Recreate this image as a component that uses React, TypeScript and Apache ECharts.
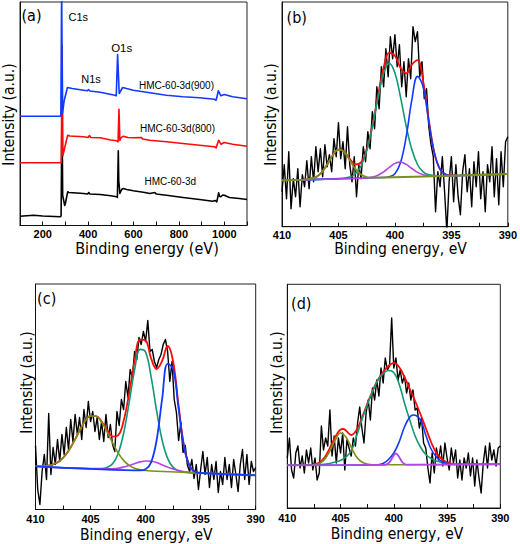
import { useEffect, useRef } from "react";
import * as echarts from "echarts";

// ---------- Panel (a): XPS survey spectra, [binding energy eV, intensity a.u.] ----------
const surveyHMC: [number, number][] = [
  [100, 9.3], [160, 10.3], [200, 9.5], [277, 8.7], [281, 9.5], [285, 120], [288, 30], [297, 20], [300, 22],
  [310, 33.7], [315, 33], [350, 32.5], [380, 32], [398, 31.5], [403, 33], [408, 31.5], [453, 31], [500, 29.7],
  [526, 28.7], [529, 28], [531, 50], [533, 74.7], [535, 45], [540, 32], [548, 36], [555, 37], [570, 36],
  [599, 34.7], [650, 33], [672, 32], [694, 33], [700, 31.5], [745, 30.3], [818, 28], [891, 26], [949, 24.3],
  [960, 25], [967, 23.7], [975, 32.7], [980, 29], [985, 28.7], [993, 30.5], [1000, 30.3], [1022, 28],
  [1066, 27], [1100, 26],
];
const survey800: [number, number][] = [
  [100, 62.7], [200, 62.7], [278, 62.7], [282, 63], [285.5, 180.3], [289, 70], [298, 78.7], [310, 90.3],
  [320, 89.5], [380, 88.7], [400, 88], [406, 90], [412, 88], [453, 87.7], [500, 85.5], [526, 84.7],
  [532, 83.7], [536, 116.3], [540, 85], [545, 87.7], [555, 89.3], [575, 88], [599, 87.7], [635, 88],
  [640, 86.5], [672, 85.3], [745, 83.7], [818, 82], [891, 80.3], [956, 78.7], [964, 77.7], [975, 85.3],
  [985, 81.3], [1000, 83], [1037, 81.3], [1100, 79.3],
];
const survey900: [number, number][] = [
  [100, 109.3], [200, 109.3], [277, 109.3], [280, 110], [283.5, 240], [287, 112], [295, 125.3], [309, 138],
  [330, 137], [380, 135.3], [397, 134.7], [402, 136], [408, 134.5], [453, 133.3], [518, 130.3], [524, 129.7],
  [530, 171], [537, 132], [552, 138], [599, 135.3], [672, 132.7], [745, 130.3], [818, 128.7], [891, 127.7],
  [956, 126.3], [964, 125.3], [974, 134.7], [985, 129.7], [1000, 131], [1037, 128.7], [1100, 126.7],
];
const surveyNames = ["HMC-60-3d(900)", "HMC-60-3d(800)", "HMC-60-3d"];
const peakNames = ["C1s", "O1s", "N1s"];

// ---------- N1s raw spectra, 410 -> 390 eV every 0.2 eV ----------
const rawStart = 410;
const rawStep = 0.2;
const rawB = [
  35, 62, 28, 75, 18, 48, 30, 58, 20, 52, 40, 66, 38, 70, 45, 80, 55, 78, 50, 82,
  60, 72, 55, 88, 70, 104, 68, 85, 58, 100, 62, 45, 70, 30, 62, 48, 80, 65, 95, 78,
  115, 98, 140, 118, 160, 140, 178, 150, 190, 168, 192, 160, 182, 140, 165, 130, 168, 148, 200, 185,
  195, 150, 165, 128, 138, 100, 82, 70, 15, 55, 40, 70, 35, -5, 45, 70, 25, 62, 30, 12,
  55, 72, 35, 58, 20, 65, 40, 75, 28, 55, 15, 62, 45, 80, 30, 68, 22, 75, 40, 85, 90,
];
const rawC = [
  64, 20, 5, 38, 55, 30, 96, 35, 62, 45, 70, 48, 75, 55, 82, 60, 90, 68, 95, 75,
  92, 70, 100, 82, 108, 88, 98, 78, 92, 70, 88, 68, 95, 72, 85, 65, 58, 98, 84, 110,
  100, 128, 112, 140, 132, 158, 150, 172, 165, 178, 168, 189, 158, 160, 148, 142, 150, 155, 165, 170,
  158, 128, 148, 110, 97, 69, 87, 57, 64, 44, 38, 50, 31, 45, 20, 40, 58, 35, 52, 22,
  45, 30, 48, 17, 38, 25, 52, 30, 45, 22, 50, 35, 18, 45, 60, 30, 55, 25, 48, 38, 42,
];
const rawD = [
  50, 70, 38, 30, 55, 62, 40, 52, 35, 58, 45, 60, 38, 50, 28, 35, 82, 58, 70, 62,
  98, 52, 72, 45, 70, 55, 75, 38, 68, 60, 52, 70, 62, 85, 101, 80, 65, 95, 108, 88,
  120, 108, 128, 112, 140, 125, 150, 138, 142, 190, 140, 150, 128, 138, 125, 132, 115, 125, 108, 118,
  98, 100, 80, 90, 65, 60, 40, 25, 55, 35, 60, 48, 62, 42, 65, 50, 38, 60, 45, 58,
  30, 48, 28, 50, 40, 55, 32, 50, 22, 48, 30, 15, 45, 62, 40, 65, 48, 58, 42, 60, 62,
];

// ---------- Fitted components [eV, intensity] ----------
const fitB_olive: [number, number][] = [
  [410, 46.3], [409, 46.6], [408, 47.0], [407, 49.6], [406.5, 54.1], [406, 62.2], [405.5, 71.5], [405, 77.0],
  [404.5, 74.8], [404, 66.5], [403.5, 57.8], [403, 52.1], [402.5, 49.7], [402, 49.1], [401, 49.2], [390, 52.7],
];
const fitB_green: [number, number][] = [
  [410, 46.3], [405, 48.1], [404, 49.6], [403.5, 52.9], [403, 60.6], [402.5, 75.8], [402, 99.7], [401.5, 128.6],
  [401, 153.4], [400.5, 163.3], [400, 153.7], [399.5, 129.3], [399, 100.6], [398.5, 77.1], [398, 62.2],
  [397.5, 54.8], [397, 51.9], [396, 50.9], [390, 52.7],
];
const fitB_blue: [number, number][] = [
  [410, 46.3], [401, 49.2], [400.5, 49.9], [400, 53.0], [399.5, 64.1], [399, 90.0], [398.5, 126.8], [398, 150.3],
  [397.5, 139.7], [397, 105.0], [396.5, 73.4], [396, 57.3], [395.5, 52.3], [395, 51.1], [394, 51.4], [390, 52.7],
];
const fitB_purple: [number, number][] = [
  [410, 46.3], [403, 48.5], [402.5, 48.9], [402, 49.7], [401.5, 51.5], [401, 54.8], [400.5, 59.3], [400, 63.3],
  [399.5, 64.6], [399, 62.3], [398.5, 58.2], [398, 54.3], [397.5, 52.0], [397, 51.0], [396, 50.8], [390, 52.7],
];
const fitB_sum: [number, number][] = [
  [408, 47.0], [407, 49.6], [406.5, 54.1], [406, 62.2], [405.5, 71.5], [405, 77.0], [404.5, 75.3], [404, 67.9],
  [403.5, 62.3], [403, 64.3], [402.5, 77.0], [402, 100.7], [401.5, 131.2], [401, 159.0], [400.5, 173.9],
  [400, 171.0], [399.5, 158.6], [399, 153.3], [398.5, 162.1], [398, 166.6], [397.5, 145.9], [397, 106.9],
  [396.5, 73.6], [396, 57.3], [395.5, 52.2], [395, 51.3], [394.5, 51.4],
];

const fitC_olive: [number, number][] = [
  [410, 43.3], [409.5, 43.3], [409, 43.65], [408.5, 44.7], [408, 47.1], [407.5, 51.6], [407, 58.65], [406.5, 68.1],
  [406, 78.8], [405.5, 88.2], [405, 93.55], [404.5, 93.3], [404, 87.5], [403.5, 77.7], [403, 66.55], [402.5, 56.6],
  [402, 49.1], [401.5, 44.2], [401, 41.35], [400.5, 39.8], [400, 39.0], [399, 38.3], [390, 34.2],
];
const fitC_green: [number, number][] = [
  [410, 43.2], [405, 41.0], [404, 40.9], [403.5, 42.0], [403, 45.75], [402.5, 55.8], [402, 76.1], [401.5, 106.6],
  [401, 139.45], [400.5, 160.1], [400, 157.4], [399.5, 132.7], [399, 98.75], [398.5, 69.5], [398, 51.1],
  [397.5, 42.1], [397, 38.65], [396.5, 37.4], [396, 36.9], [390, 34.2],
];
const fitC_blue: [number, number][] = [
  [410, 43.2], [401, 39.15], [400.5, 39.1], [400, 40.2], [399.5, 47.1], [399, 69.25], [398.5, 110.3], [398, 145.6],
  [397.5, 140.7], [397, 100.55], [396.5, 62.0], [396, 43.2], [395.5, 37.7], [395, 36.5], [390, 34.2],
];
const fitC_purple: [number, number][] = [
  [410, 43.2], [404, 40.6], [403, 40.75], [402.5, 41.3], [402, 42.4], [401.5, 44.0], [401, 45.85], [400.5, 47.6],
  [400, 48.5], [399.5, 48.3], [399, 46.95], [398.5, 44.7], [398, 42.4], [397.5, 40.4], [397, 38.85], [396.5, 37.8],
  [396, 37.1], [395, 36.5], [390, 34.2],
];
const fitC_sum: [number, number][] = [
  [409, 43.65], [408.5, 44.7], [408, 47.1], [407.5, 51.6], [407, 58.65], [406.5, 68.1], [406, 78.8], [405.5, 88.2],
  [405, 93.6], [404.5, 93.4], [404, 88.0], [403.5, 79.7], [403, 72.95], [402.5, 74.1], [402, 88.4], [401.5, 116.0],
  [401, 148.35], [400.5, 169.9], [400, 169.0], [399.5, 151.1], [399, 140.5], [398.5, 148.5], [398, 163.5],
  [397.5, 148.0], [397, 103.35], [396.5, 63.0], [396, 43.4], [395.5, 37.7], [395, 36.55],
];

const fitD_purple: [number, number][] = [
  [410, 42.7], [401, 43.15], [400.75, 43.45], [400.5, 44.7], [400.25, 48.1], [400, 52.8], [399.8, 54.5],
  [399.5, 51.0], [399.25, 46.5], [399, 44.05], [398.75, 43.3], [398.5, 43.3], [390, 43.7],
];
const fitD_olive: [number, number][] = [
  [410, 42.7], [408, 42.8], [407.5, 43.2], [407, 44.3], [406.5, 48.5], [406, 57], [405.5, 68], [405, 75],
  [404.5, 71], [404, 61], [403.5, 51], [403, 46], [402.5, 44], [402, 43.2], [390, 43.7],
];
const fitD_green: [number, number][] = [
  [410, 42.7], [407, 43.3], [406, 44.5], [405.5, 46], [405, 47.5], [404.5, 51], [404, 57], [403.5, 72], [403, 88],
  [402.5, 103], [402, 116], [401.5, 128], [401, 134.5], [400.5, 137.5], [400, 135.5], [399.5, 124], [399, 105],
  [398.5, 88], [398, 72], [397.5, 61], [397, 53.5], [396.5, 49.5], [396, 47], [395, 44.5], [394, 43.6], [390, 43.7],
];
const fitD_blue: [number, number][] = [
  [410, 42.7], [401.5, 43.3], [401, 44.5], [400.5, 48.5], [400, 55], [399.5, 66], [399, 81], [398.5, 91],
  [398.15, 93], [397.5, 88], [397, 73], [396.5, 59], [396, 51], [395.5, 46.5], [395, 44.5], [394.5, 43.7], [390, 43.7],
];
const fitD_sum: [number, number][] = [
  [408, 43], [407.5, 43.6], [407, 45.5], [406.5, 50.5], [406, 60], [405.5, 71], [405, 78.5], [404.75, 79],
  [404.5, 77.5], [404, 73], [403.5, 78], [403, 90], [402.5, 104], [402, 117], [401.5, 128], [401, 136],
  [400.5, 142], [400, 145], [399.5, 141], [399, 131], [398.5, 119], [398, 107], [397.5, 94], [397, 80],
  [396.5, 66], [396, 55], [395.5, 49], [395, 45.5], [394.5, 44],
];

const panelLetters = ["(a)", "(b)", "(c)", "(d)"];
const yTitle = "Intensity (a.u.)";
const xTitleSurvey = "Binding energy (eV)";
const xTitleN1s = "Binding energy, eV";

const C = {
  black: "#000000",
  red: "#ff0a0a",
  blue: "#1438ff",
  green: "#0f9a72",
  olive: "#7b8f1c",
  purple: "#b544e6",
};

const TITLE_FONT = "'DejaVu Sans Condensed', 'DejaVu Sans', sans-serif";
const TICK_FONT = "'Liberation Sans', Arial, sans-serif";

export default function App() {
  const ref = useRef<HTMLDivElement>(null);
  useEffect(() => {
    document.body.style.margin = "0";
    const chart = echarts.init(ref.current as HTMLDivElement, undefined, { renderer: "svg" });

    const gridBoxes = [
      { left: 20, top: 2, width: 227, height: 223.5 },
      { left: 282, top: 2, width: 227.5, height: 224.7 },
      { left: 35.5, top: 284, width: 220.2, height: 225.5 },
      { left: 287.3, top: 284.3, width: 213, height: 223.7 },
    ];
    const yMax = [223.5, 224.7, 225.5, 223.7];
    const labelMargin = [3, 2.5, 3.5, 4];

    const axisLine = { show: true, onZero: false, lineStyle: { color: "#111", width: 1 } };
    const tickLabel = (g: number) => ({
      fontSize: 11,
      fontWeight: "bold" as const,
      fontFamily: TICK_FONT,
      color: "#000",
      margin: labelMargin[g],
      showMinLabel: true,
      showMaxLabel: true,
    });

    const xAxes: any[] = [
      {
        gridIndex: 0, type: "value", min: 100, max: 1100, interval: 100,
        axisLine, splitLine: { show: false },
        axisTick: { show: true, inside: true, length: 4, lineStyle: { color: "#111" } },
        axisLabel: { ...tickLabel(0), formatter: (v: number) => (v % 200 === 0 && v > 100 && v < 1100 ? String(v) : "") },
      },
      ...[1, 2, 3].map((g) => ({
        gridIndex: g, type: "value", min: 390, max: 410, interval: 2.5, inverse: true,
        axisLine, splitLine: { show: false },
        axisTick: { show: true, inside: true, length: 4, lineStyle: { color: "#111" } },
        axisLabel: { ...tickLabel(g), formatter: (v: number) => (v % 5 === 0 ? String(v) : "") },
      })),
    ];
    const yAxes: any[] = [0, 1, 2, 3].map((g) => ({
      gridIndex: g, type: "value", min: 0, max: yMax[g],
      axisLine, axisTick: { show: false }, axisLabel: { show: false }, splitLine: { show: false },
    }));

    const line = (g: number, data: any[], color: string, width: number, smooth: boolean | number = false) => ({
      type: "line",
      xAxisIndex: g,
      yAxisIndex: g,
      data,
      showSymbol: false,
      symbol: "none",
      smooth,
      clip: true,
      lineStyle: { color, width, join: "round" },
      silent: true,
    });
    const raw = (vals: number[]) => vals.map((v, i) => [rawStart - rawStep * i, v]);

    const series: any[] = [
      line(0, surveyHMC, C.black, 1.6),
      line(0, survey800, C.red, 1.6),
      line(0, survey900, C.blue, 1.6),

      line(1, raw(rawB), C.black, 1.4),
      line(1, fitB_sum, C.red, 1.8, 0.4),
      line(1, fitB_green, C.green, 1.6, 0.4),
      line(1, fitB_blue, C.blue, 1.6, 0.4),
      line(1, fitB_purple, C.purple, 1.6, 0.4),
      line(1, fitB_olive, C.olive, 1.8, 0.4),

      line(2, raw(rawC), C.black, 1.4),
      line(2, fitC_sum, C.red, 1.8, 0.4),
      line(2, fitC_green, C.green, 1.6, 0.4),
      line(2, fitC_purple, C.purple, 1.6, 0.4),
      line(2, fitC_olive, C.olive, 1.6, 0.4),
      line(2, fitC_blue, C.blue, 1.8, 0.4),

      line(3, raw(rawD), C.black, 1.4),
      line(3, fitD_sum, C.red, 1.8, 0.4),
      line(3, fitD_green, C.green, 1.6, 0.4),
      line(3, fitD_blue, C.blue, 1.6, 0.4),
      line(3, fitD_olive, C.olive, 1.6, 0.4),
      line(3, fitD_purple, C.purple, 1.8, 0.4),
    ];

    const text = (t: string, x: number, y: number, size: number, family: string, rot = 0) => ({
      type: "text",
      x,
      y,
      rotation: rot,
      z: 100,
      silent: true,
      style: { text: t, fontSize: size, fontFamily: family, fill: "#000", align: "center", verticalAlign: "middle" },
    });
    const R = Math.PI / 2;
    const graphic: any[] = [
      text(panelLetters[0], 31.5, 15, 16, TITLE_FONT),
      text(panelLetters[1], 296.7, 17.5, 16, TITLE_FONT),
      text(panelLetters[2], 46.7, 298.3, 16, TITLE_FONT),
      text(panelLetters[3], 301.2, 303.7, 16, TITLE_FONT),
      text(yTitle, 8.8, 114.5, 15.5, TITLE_FONT, R),
      text(yTitle, 270.5, 114.5, 15.5, TITLE_FONT, R),
      text(yTitle, 27.3, 382.5, 15.5, TITLE_FONT, R),
      text(yTitle, 277, 382.5, 15.5, TITLE_FONT, R),
      text(xTitleSurvey, 147, 248.5, 16, TITLE_FONT),
      text(xTitleN1s, 400.5, 249, 15.5, TITLE_FONT),
      text(xTitleN1s, 146.3, 534.5, 15.5, TITLE_FONT),
      text(xTitleN1s, 397, 534, 15.5, TITLE_FONT),
      text(peakNames[0], 78.3, 17.3, 11, TICK_FONT),
      text(peakNames[1], 121.7, 48.3, 11.5, TICK_FONT),
      text(peakNames[2], 91, 79, 11, TICK_FONT),
      text(surveyNames[0], 176.5, 85.7, 10, TICK_FONT),
      text(surveyNames[1], 177.5, 128.3, 10, TICK_FONT),
      text(surveyNames[2], 170.3, 181.7, 10, TICK_FONT),
    ];

    chart.setOption({
      animation: false,
      backgroundColor: "#ffffff",
      grid: gridBoxes.map((g) => ({ ...g, show: true, borderColor: "#222", borderWidth: 1, backgroundColor: "transparent", containLabel: false })),
      xAxis: xAxes,
      yAxis: yAxes,
      series,
      graphic,
    });
    return () => chart.dispose();
  }, []);
  return (
    <div
      ref={ref}
      style={{ position: "fixed", left: 0, top: 0, width: 520, height: 544, background: "#fff" }}
    />
  );
}
